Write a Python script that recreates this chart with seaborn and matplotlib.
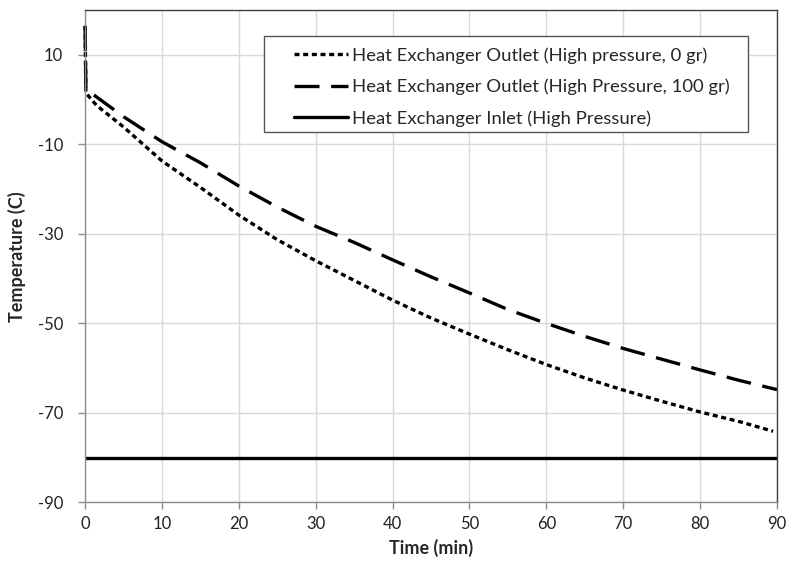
import pandas as pd
import matplotlib.pyplot as plt
import seaborn as sns
from matplotlib.patches import Rectangle

# values
time_0gr = [0, 0.1, 1.5, 5, 10, 15, 20, 25, 30, 35, 40, 45, 50, 55, 60, 65, 70, 75, 80, 85, 89.5]
temp_0gr = [16.5, 1.5, -1.3, -6.1, -13.7, -19.6, -25.8, -31.3, -36.0, -40.4, -44.8, -48.8, -52.4,
            -55.9, -59.2, -62.2, -64.9, -67.4, -69.8, -71.9, -74.1]

time_100gr = [0, 0.1, 1.5, 5, 10, 15, 20, 25, 30, 35, 40, 45, 50, 55, 60, 65, 70, 75, 80, 85, 90]
temp_100gr = [16.5, 2.3, 0.6, -3.8, -9.4, -14.1, -19.3, -24.0, -28.3, -31.9, -35.8, -39.6, -43.2,
              -46.9, -50.0, -52.9, -55.6, -58.0, -60.4, -62.7, -64.8]

time_inlet = [0, 90]
temp_inlet = [-80, -80]

labels = ['Heat Exchanger Outlet (High pressure, 0 gr)',
          'Heat Exchanger Outlet (High Pressure, 100 gr)',
          'Heat Exchanger Inlet (High Pressure)']

x_ticks = list(range(0, 91, 10))
y_ticks = list(range(-90, 11, 20))

sns.set_theme(style="white")
plt.rcParams['font.family'] = ['Lato', 'DejaVu Sans']
plt.rcParams['axes.unicode_minus'] = False

fig = plt.figure(figsize=(7.88, 5.67), dpi=100)
ax = fig.add_axes([0.108, 0.114, 0.878, 0.868])

df1 = pd.DataFrame({'t': time_0gr, 'T': temp_0gr})
df2 = pd.DataFrame({'t': time_100gr, 'T': temp_100gr})
df3 = pd.DataFrame({'t': time_inlet, 'T': temp_inlet})

sns.lineplot(data=df1, x='t', y='T', ax=ax, color='black', lw=2.4, clip_on=False,
             linestyle=(0, (1.5, 1.1)), label=labels[0])
sns.lineplot(data=df2, x='t', y='T', ax=ax, color='black', lw=2.4, clip_on=False,
             linestyle=(0, (7.5, 3.5)), label=labels[1])
sns.lineplot(data=df3, x='t', y='T', ax=ax, color='black', lw=2.4,
             linestyle='-', label=labels[2])

ax.set_xlim(0, 90)
ax.set_ylim(-90, 20)
ax.set_xticks(x_ticks)
ax.set_yticks(y_ticks)
ax.grid(True, color='#d9d9d9', lw=1)
ax.set_axisbelow(True)

for side in ['left', 'bottom']:
    ax.spines[side].set_color('#8c8c8c')
for side in ['top', 'right']:
    ax.spines[side].set_color('#404040')
for s in ax.spines.values():
    s.set_linewidth(1)

ax.tick_params(axis='both', direction='out', length=5, width=1, color='#8c8c8c',
               labelsize=12, labelcolor='#222222', left=True, bottom=True)
ax.tick_params(axis='y', pad=11)
ax.tick_params(axis='x', pad=5)

ax.set_xlabel('Time (min)', fontsize=13, fontweight='bold', labelpad=5)
ax.set_ylabel('Temperature (C)', fontsize=13, fontweight='bold', labelpad=8)

# legend box drawn separately: Excel leaves extra room on the left
box = Rectangle((0.259, 0.752), 0.699, 0.195, transform=ax.transAxes,
                facecolor='white', edgecolor='#555555', lw=1, zorder=4)
ax.add_patch(box)
leg = ax.legend(loc='upper right', bbox_to_anchor=(0.948, 0.947), fontsize=13.3,
                frameon=False, handlelength=2.9, handletextpad=0.25,
                borderpad=0.6, labelspacing=0.8, borderaxespad=0)
leg.set_zorder(5)

plt.savefig('out.png', dpi=100)
plt.close()
